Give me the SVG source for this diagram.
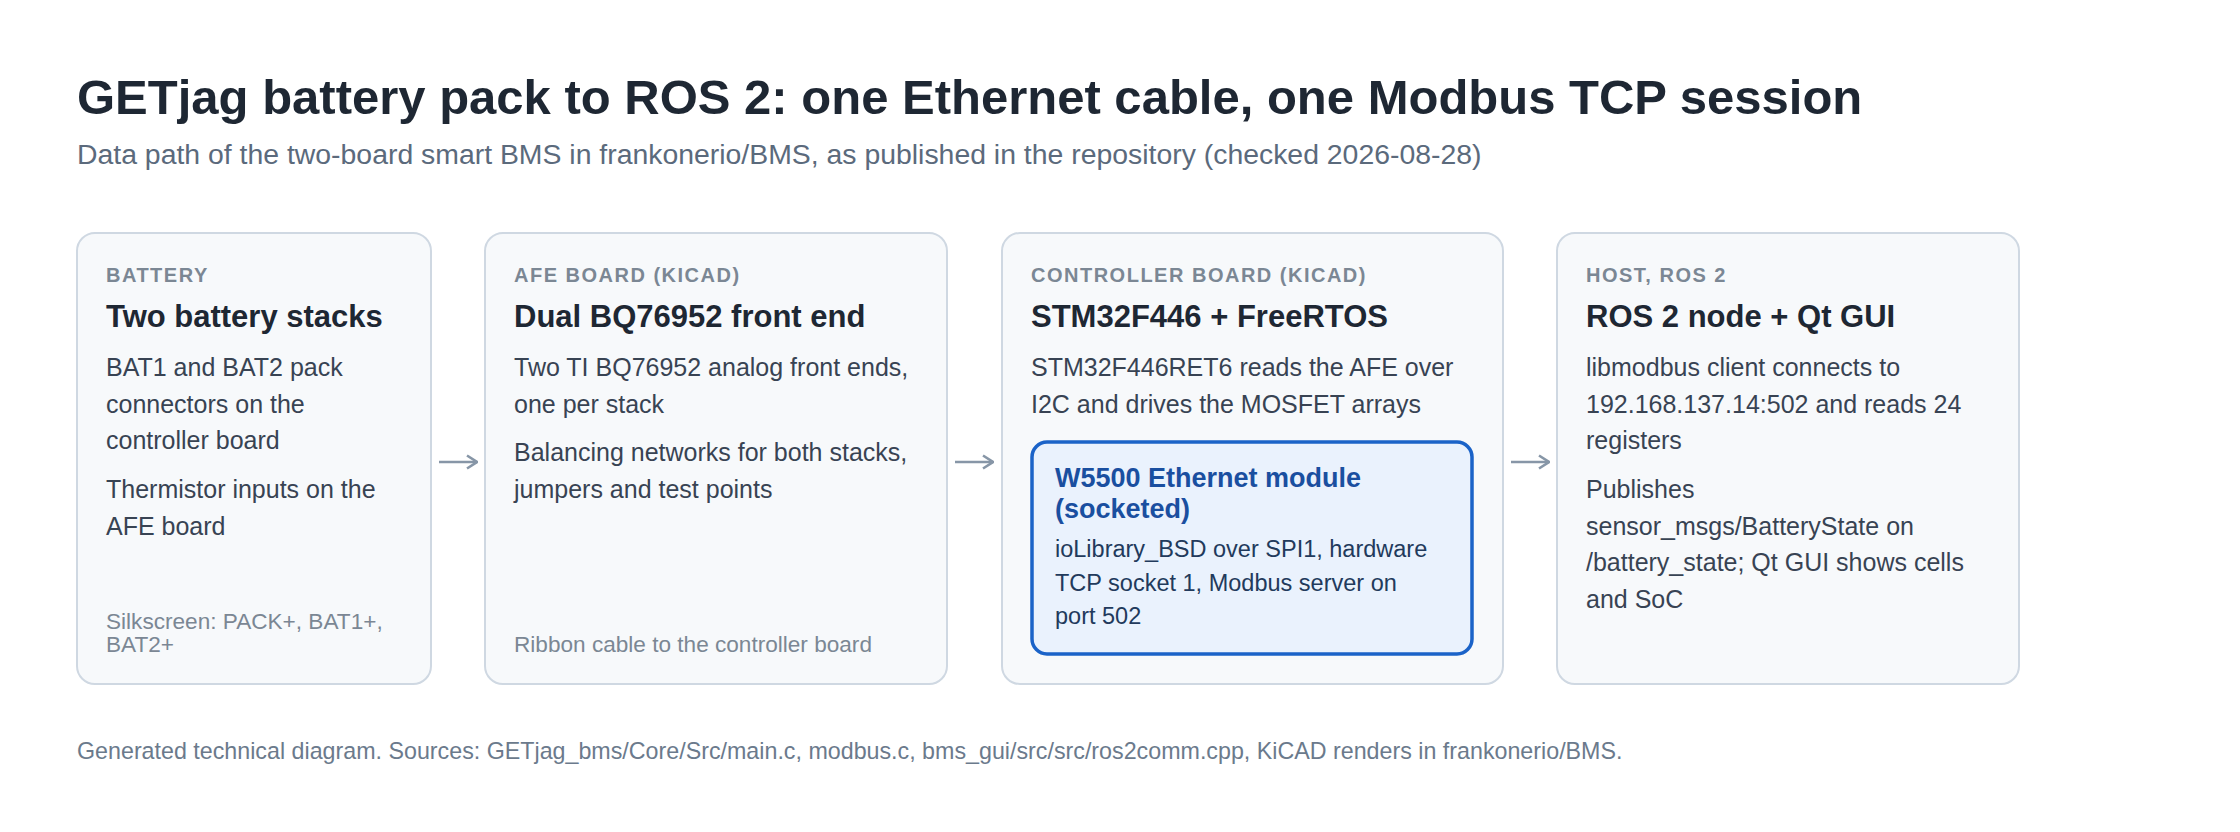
<svg xmlns="http://www.w3.org/2000/svg" width="2240" height="832" viewBox="0 0 2240 832">
<defs>
<style>
text{font-family:"Liberation Sans",Arial,Helvetica,sans-serif;}
.title{font-size:49px;font-weight:700;fill:#1e2733;}
.sub{font-size:28.4px;fill:#5b6a7c;}
.card{fill:#f7f9fb;stroke:#cfd8e2;stroke-width:2;}
.lbl{font-size:20px;font-weight:700;fill:#7b8794;letter-spacing:1.5px;}
.hd{font-size:31px;font-weight:700;fill:#1e2733;}
.body{font-size:25px;fill:#384353;}
.note{font-size:22.6px;fill:#7b8794;}
.inner{fill:#eaf2fd;stroke:#1b63c8;stroke-width:3.5;}
.ihd{font-size:27px;font-weight:700;fill:#1a4fa0;}
.ibody{font-size:23.5px;fill:#223a5c;}
.foot{font-size:23.25px;fill:#6b7a8c;}
.conn{stroke:#8796a7;stroke-width:2.5;fill:none;}
</style>
<marker id="arr" viewBox="0 0 12 16" refX="11" refY="8" markerWidth="12" markerHeight="16" markerUnits="userSpaceOnUse" orient="auto">
<path d="M1,1.5 L11,8 L1,14.5" fill="none" stroke="#8796a7" stroke-width="2.6" stroke-linejoin="miter"/>
</marker>
</defs>
<rect width="2240" height="832" fill="#ffffff"/>
<g id="header">
<text class="title" x="77" y="114">GETjag battery pack to ROS 2: one Ethernet cable, one Modbus TCP session</text>
<text class="sub" x="77" y="164">Data path of the two-board smart BMS in frankonerio/BMS, as published in the repository (checked 2026-08-28)</text>
</g>
<g id="battery">
<rect class="card" x="77" y="233" width="354" height="451" rx="18"/>
<text class="lbl" x="106" y="282">BATTERY</text>
<text class="hd" x="106" y="327">Two battery stacks</text>
<text class="body" x="106" y="376">BAT1 and BAT2 pack</text>
<text class="body" x="106" y="412.7">connectors on the</text>
<text class="body" x="106" y="449.4">controller board</text>
<text class="body" x="106" y="498">Thermistor inputs on the</text>
<text class="body" x="106" y="534.7">AFE board</text>
<text class="note" x="106" y="628.5">Silkscreen: PACK+, BAT1+,</text>
<text class="note" x="106" y="651.5">BAT2+</text>
</g>
<g id="afe">
<rect class="card" x="485" y="233" width="462" height="451" rx="18"/>
<text class="lbl" x="514" y="282">AFE BOARD (KICAD)</text>
<text class="hd" x="514" y="327">Dual BQ76952 front end</text>
<text class="body" x="514" y="376">Two TI BQ76952 analog front ends,</text>
<text class="body" x="514" y="412.7">one per stack</text>
<text class="body" x="514" y="461.3">Balancing networks for both stacks,</text>
<text class="body" x="514" y="498">jumpers and test points</text>
<text class="note" x="514" y="651.5">Ribbon cable to the controller board</text>
</g>
<g id="controller">
<rect class="card" x="1002" y="233" width="501" height="451" rx="18"/>
<text class="lbl" x="1031" y="282">CONTROLLER BOARD (KICAD)</text>
<text class="hd" x="1031" y="327">STM32F446 + FreeRTOS</text>
<text class="body" x="1031" y="376">STM32F446RET6 reads the AFE over</text>
<text class="body" x="1031" y="412.7">I2C and drives the MOSFET arrays</text>
<g id="w5500">
<rect class="inner" x="1032" y="442" width="440" height="212" rx="15"/>
<text class="ihd" x="1055" y="487">W5500 Ethernet module</text>
<text class="ihd" x="1055" y="518">(socketed)</text>
<text class="ibody" x="1055" y="557">ioLibrary_BSD over SPI1, hardware</text>
<text class="ibody" x="1055" y="590.5">TCP socket 1, Modbus server on</text>
<text class="ibody" x="1055" y="623.5">port 502</text>
</g>
</g>
<g id="host">
<rect class="card" x="1557" y="233" width="462" height="451" rx="18"/>
<text class="lbl" x="1586" y="282">HOST, ROS 2</text>
<text class="hd" x="1586" y="327">ROS 2 node + Qt GUI</text>
<text class="body" x="1586" y="376">libmodbus client connects to</text>
<text class="body" x="1586" y="412.7">192.168.137.14:502 and reads 24</text>
<text class="body" x="1586" y="449.4">registers</text>
<text class="body" x="1586" y="498">Publishes</text>
<text class="body" x="1586" y="534.7">sensor_msgs/BatteryState on</text>
<text class="body" x="1586" y="571.4">/battery_state; Qt GUI shows cells</text>
<text class="body" x="1586" y="608.1">and SoC</text>
</g>
<g id="connectors">
<path class="conn" d="M439 462 H477" marker-end="url(#arr)"/>
<path class="conn" d="M955 462 H993" marker-end="url(#arr)"/>
<path class="conn" d="M1511 462 H1549" marker-end="url(#arr)"/>
</g>
<g id="footer">
<text class="foot" x="77" y="759">Generated technical diagram. Sources: GETjag_bms/Core/Src/main.c, modbus.c, bms_gui/src/src/ros2comm.cpp, KiCAD renders in frankonerio/BMS.</text>
</g>
</svg>
